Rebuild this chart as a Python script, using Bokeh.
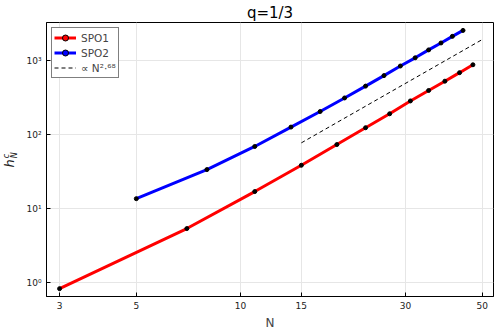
import math
from bokeh.plotting import figure
from bokeh.layouts import row
from bokeh.models import FixedTicker, Range1d, Legend, LegendItem, Div
from bokeh.embed import file_html
from bokeh.resources import INLINE

# ---- data ----
n_spo1 = [3, 7, 11, 15, 19, 23, 27, 31, 35, 39, 43, 47]
h_spo1 = [0.83, 5.4, 17.1, 38.8, 74, 125, 193, 288, 399, 533, 695, 889]
n_spo2 = [5, 8, 11, 14, 17, 20, 23, 26, 29, 32, 35, 38, 41, 44]
h_spo2 = [13.7, 33.9, 69.7, 127.6, 207, 316, 457, 634, 855, 1104, 1413, 1753, 2154, 2593]
fit_n = [15, 50]
fit_h = [78, 1950]
x_ticks = [3, 5, 10, 15, 30, 50]
x_tick_labels = ["3", "5", "10", "15", "30", "50"]
y_ticks = [1, 10, 100, 1000]
y_tick_labels = ["10⁰", "10¹", "10²", "10³"]

FONT = "DejaVu Sans"
x_lo, x_hi = 2.75, 53.9
y_lo, y_hi = 0.65, 3318

LABEL_W = 20

p = figure(width=498 - LABEL_W, height=332, x_axis_type="log", y_axis_type="log",
           x_range=Range1d(x_lo, x_hi), y_range=Range1d(y_lo, y_hi),
           output_backend="svg", toolbar_location=None,
           min_border_left=46 - LABEL_W, min_border_right=5, min_border_top=8, min_border_bottom=4)

p.title.text = "q=1/3"
p.title.align = "center"
p.title.text_font = FONT
p.title.text_font_size = "15px"
p.title.text_font_style = "normal"
p.title.text_color = "black"
p.title.standoff = 2

p.outline_line_color = "black"
p.outline_line_width = 1
p.outline_line_alpha = 1

xt = FixedTicker(ticks=x_ticks)
yt = FixedTicker(ticks=y_ticks)
p.xaxis.ticker = xt
p.yaxis.ticker = yt
p.xgrid.ticker = xt
p.ygrid.ticker = yt
p.xaxis.major_label_overrides = {t: l for t, l in zip(x_ticks, x_tick_labels)}
p.yaxis.major_label_overrides = {t: l for t, l in zip(y_ticks, y_tick_labels)}

for ax in (p.xaxis, p.yaxis):
    ax.axis_line_color = "black"
    ax.axis_line_width = 1
    ax.major_tick_in = 4
    ax.major_tick_out = 0
    ax.minor_tick_line_color = None
    ax.major_tick_line_color = "black"
    ax.major_label_text_font = FONT
    ax.major_label_text_font_size = "9px"
    ax.major_label_text_color = "#222222"
    ax.major_label_standoff = 5
    ax.axis_label_text_font = FONT
    ax.axis_label_text_font_style = "normal"

p.xaxis.axis_label = "N"
p.xaxis.axis_label_text_font_size = "12px"
p.xaxis.axis_label_standoff = 4
p.yaxis.axis_label = None

for g in (p.xgrid, p.ygrid):
    g.grid_line_color = "#e6e6e6"
    g.grid_line_width = 1

r1 = p.line(n_spo1, h_spo1, line_color="#ff0000", line_width=3)
p.scatter(n_spo1, h_spo1, size=4, fill_color="black", line_color="black")
r2 = p.line(n_spo2, h_spo2, line_color="#0000ff", line_width=3)
p.scatter(n_spo2, h_spo2, size=4, fill_color="black", line_color="black")
rf = p.line(fit_n, fit_h, line_color="black", line_width=1, line_dash="4 3")

# legend-only markers, placed outside the visible range
d1 = p.scatter(x=[1], y=[0.1], size=9, fill_color="#ff0000", line_color="black", line_width=1)
d2 = p.scatter(x=[1], y=[0.1], size=9, fill_color="#0000ff", line_color="black", line_width=1)

legend = Legend(items=[
    LegendItem(label="SPO1", renderers=[r1, d1]),
    LegendItem(label="SPO2", renderers=[r2, d2]),
    LegendItem(label="∝ N²·⁶⁸", renderers=[rf]),
], location="top_left")
legend.border_line_color = "black"
legend.border_line_width = 1
legend.background_fill_color = "white"
legend.background_fill_alpha = 1
legend.label_text_font = FONT
legend.label_text_font_size = "10.5px"
legend.glyph_width = 22
legend.glyph_height = 15
legend.label_height = 15
legend.spacing = -1
legend.padding = 2
legend.margin = 5
legend.label_standoff = 5
p.add_layout(legend)

# rotated y-axis label h^c_N as real text
ylabel_html = (
    '<div style="position:relative;width:%dpx;height:332px;">'
    '<div style="position:absolute;left:11px;top:160px;'
    'transform:translate(-50%%,-50%%) rotate(-90deg);white-space:nowrap;'
    'font-family:\'DejaVu Sans\';font-style:italic;font-size:13px;line-height:1;color:#222;">'
    'h<span style="display:inline-block;vertical-align:-0.35em;font-size:8px;line-height:1.05;'
    'text-align:left;margin-left:1px;">c<br>N</span></div></div>'
) % LABEL_W
ylabel = Div(text=ylabel_html, width=LABEL_W, height=332, margin=0)

layout = row(ylabel, p, spacing=0)
open("out.html", "w").write(file_html(layout, INLINE))
